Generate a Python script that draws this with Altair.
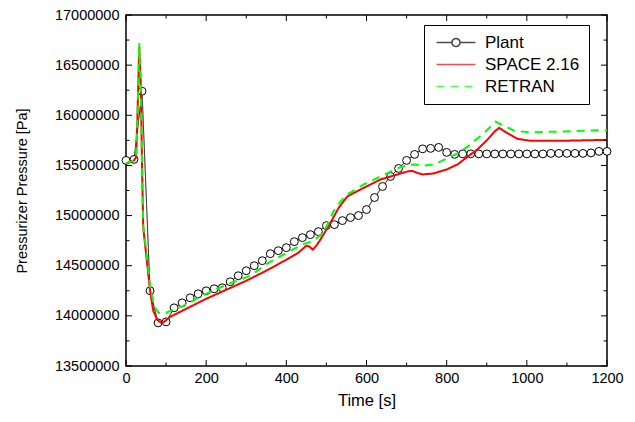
import altair as alt
import pandas as pd

# ---------------- data (pressure in MPa, converted to Pa below) ----------------
plant_t = [0, 20, 40, 60, 80, 100, 120, 140, 160, 180, 200, 220, 240, 260, 280, 300,
           320, 340, 360, 380, 400, 420, 440, 460, 480, 500, 520, 540, 560, 580, 600,
           620, 640, 660, 680, 700, 720, 740, 760, 780, 800, 820, 840, 860, 880, 900,
           920, 940, 960, 980, 1000, 1020, 1040, 1060, 1080, 1100, 1120, 1140, 1160,
           1180, 1200]
plant_p = [15.55, 15.56, 16.24, 14.25, 13.93, 13.94, 14.08, 14.13, 14.18, 14.22, 14.25,
           14.27, 14.28, 14.34, 14.40, 14.45, 14.50, 14.55, 14.62, 14.65, 14.68, 14.74,
           14.78, 14.81, 14.84, 14.90, 14.91, 14.95, 14.98, 15.00, 15.06, 15.18, 15.29,
           15.39, 15.47, 15.55, 15.61, 15.665, 15.67, 15.68, 15.63, 15.61, 15.615, 15.615,
           15.615, 15.615, 15.615, 15.615, 15.615, 15.615, 15.615, 15.615, 15.615, 15.62,
           15.62, 15.62, 15.62, 15.62, 15.625, 15.64, 15.64]

space_t = [0, 20, 25, 28, 33, 37, 40, 43, 52, 60, 68, 78, 88, 95, 110, 150, 200, 250,
           300, 350, 400, 430, 440, 450, 458, 466, 475, 485, 506, 531, 552, 575, 600,
           635, 677, 702, 714, 727, 740, 767, 800, 827, 850, 877, 900, 920, 931, 948,
           977, 1010, 1077, 1140, 1200]
space_p = [15.52, 15.55, 15.58, 15.90, 16.68, 16.30, 15.50, 14.88, 14.55, 14.25, 14.05,
           13.96, 13.93, 13.94, 13.99, 14.07, 14.17, 14.26, 14.35, 14.45, 14.56, 14.63,
           14.665, 14.70, 14.69, 14.66, 14.70, 14.76, 14.90, 15.08, 15.19, 15.24, 15.29,
           15.36, 15.41, 15.44, 15.445, 15.425, 15.41, 15.42, 15.46, 15.51, 15.58, 15.66,
           15.75, 15.84, 15.875, 15.83, 15.765, 15.745, 15.745, 15.75, 15.755]

retran_t = [0, 20, 25, 28, 33, 37, 40, 43, 52, 60, 70, 81, 95, 110, 143, 180, 227, 270,
            310, 352, 410, 443, 468, 493, 505, 518, 535, 552, 593, 635, 677, 702, 720,
            743, 765, 785, 827, 850, 877, 900, 922, 943, 968, 1010, 1077, 1140, 1200]
retran_p = [15.52, 15.55, 15.58, 15.90, 16.72, 16.30, 15.50, 14.90, 14.60, 14.30, 14.10,
            14.03, 14.02, 14.05, 14.10, 14.18, 14.27, 14.34, 14.40, 14.52, 14.65, 14.715,
            14.75, 14.83, 14.93, 15.045, 15.14, 15.21, 15.31, 15.39, 15.47, 15.505, 15.51,
            15.497, 15.51, 15.54, 15.62, 15.68, 15.77, 15.85, 15.935, 15.897, 15.846,
            15.83, 15.837, 15.845, 15.852]

series_names = ["Plant", "SPACE 2.16", "RETRAN"]
series_colors = ["#000000", "#ff0000", "#00ff00"]
series_dash = [[1, 0], [1, 0], [8, 6]]

x_major = [0, 200, 400, 600, 800, 1000, 1200]
x_minor = [100, 300, 500, 700, 900, 1100]
y_major = [13500000, 14000000, 14500000, 15000000, 15500000, 16000000, 16500000, 17000000]
y_minor = [13750000, 14250000, 14750000, 15250000, 15750000, 16250000, 16750000]

# ---------------- table ----------------
frames = []
for name, ts, ps in [("Plant", plant_t, plant_p), ("SPACE 2.16", space_t, space_p),
                     ("RETRAN", retran_t, retran_p)]:
    frames.append(pd.DataFrame({"series": name, "t": ts, "p": [v * 1e6 for v in ps]}))
df = pd.concat(frames, ignore_index=True)

W, H = 481, 351
FONT = "Liberation Sans"

xscale = alt.Scale(domain=[0, 1200], nice=False, zero=False)
yscale = alt.Scale(domain=[13500000, 17000000], nice=False, zero=False)

x_axis = alt.Axis(values=x_major, format="d", title="Time [s]", grid=False,
                  domain=False, ticks=False, tickSize=0, labelPadding=5, labelFlush=False,
                  labelFontSize=14.5, labelFont=FONT, labelColor="black",
                  titleFont=FONT, titleFontSize=16.5, titleFontWeight="normal",
                  titleColor="black", titlePadding=8)
y_axis = alt.Axis(values=y_major, format="d", title="Pressurizer Pressure [Pa]",
                  grid=False, domain=False, ticks=False, tickSize=0, labelFlush=False,
                  labelPadding=7, labelFontSize=14.5, labelFont=FONT,
                  labelColor="black", titleFont=FONT, titleFontSize=14.5,
                  titleFontWeight="normal", titleColor="black", titlePadding=25)
x_enc = alt.X("t:Q", scale=xscale, axis=x_axis)
y_enc = alt.Y("p:Q", scale=yscale, axis=y_axis)

# legend symbols (unit = 5 px with symbolSize 100)
plant_path = "M-1,0H2.1M3.7,0H6.8M2.1,0A0.8,0.8 0 1,1 3.7,0A0.8,0.8 0 1,1 2.1,0"
line_path = "M-1,0H6.8"
series_shapes = [plant_path, line_path, line_path]

legend = alt.Legend(
    orient="none", legendX=298, legendY=10, title=None,
    labelFont=FONT, labelFontSize=17, labelColor="black", labelOffset=35,
    symbolSize=100, symbolStrokeWidth=1.6, rowPadding=4, padding=9,
    strokeColor="black", fillColor="white",
)
color_enc = alt.Color("series:N", scale=alt.Scale(domain=series_names, range=series_colors),
                      legend=legend)
dash_enc = alt.StrokeDash("series:N", scale=alt.Scale(domain=series_names, range=series_dash),
                          legend=legend)
shape_enc = alt.Shape("series:N", scale=alt.Scale(domain=series_names, range=series_shapes),
                      legend=legend)

base = alt.Chart(df)
plant_line = base.transform_filter(alt.datum.series == "Plant").mark_line(
    strokeWidth=1).encode(x=x_enc, y=y_enc, color=color_enc, strokeDash=dash_enc)
plant_pts = base.transform_filter(alt.datum.series == "Plant").mark_point(
    shape="circle", size=62, filled=True, fill="white", stroke="black", strokeWidth=1,
    opacity=1).encode(x=x_enc, y=y_enc)
space_line = base.transform_filter(alt.datum.series == "SPACE 2.16").mark_line(
    strokeWidth=2).encode(x=x_enc, y=y_enc, color=color_enc, strokeDash=dash_enc)
retran_line = base.transform_filter(alt.datum.series == "RETRAN").mark_line(
    strokeWidth=2).encode(x=x_enc, y=y_enc, color=color_enc, strokeDash=dash_enc)
# empty layer that only carries the legend symbol shapes
legend_shapes = base.transform_filter("false").mark_point(filled=False).encode(
    x=x_enc, y=y_enc, color=color_enc, shape=shape_enc)

# inward tick marks drawn from the tick arrays
def xticks(vals, y0, y1):
    return alt.Chart(pd.DataFrame({"t": vals})).mark_rule(color="black", strokeWidth=1).encode(
        x=x_enc, y=alt.value(y0), y2=alt.value(y1))

def yticks(vals, x0, x1):
    return alt.Chart(pd.DataFrame({"p": vals})).mark_rule(color="black", strokeWidth=1).encode(
        y=y_enc, x=alt.value(x0), x2=alt.value(x1))

tick_layers = [
    xticks(x_major, H, H - 6), xticks(x_minor, H, H - 3.5),
    xticks(x_major, 0, 6), xticks(x_minor, 0, 3.5),
    yticks(y_major, 0, 6), yticks(y_minor, 0, 3.5),
    yticks(y_major, W, W - 6), yticks(y_minor, W, W - 3.5),
]

chart = alt.layer(plant_line, plant_pts, space_line, retran_line, legend_shapes,
                  *tick_layers).properties(
    width=W, height=H,
    autosize=alt.AutoSizeParams(type="none"),
    padding={"left": 118, "top": 7, "right": 20, "bottom": 48},
    background="white",
).configure_view(stroke="black", strokeWidth=1.5)

chart.save("out.html", embed_options={"renderer": "svg", "actions": False})
